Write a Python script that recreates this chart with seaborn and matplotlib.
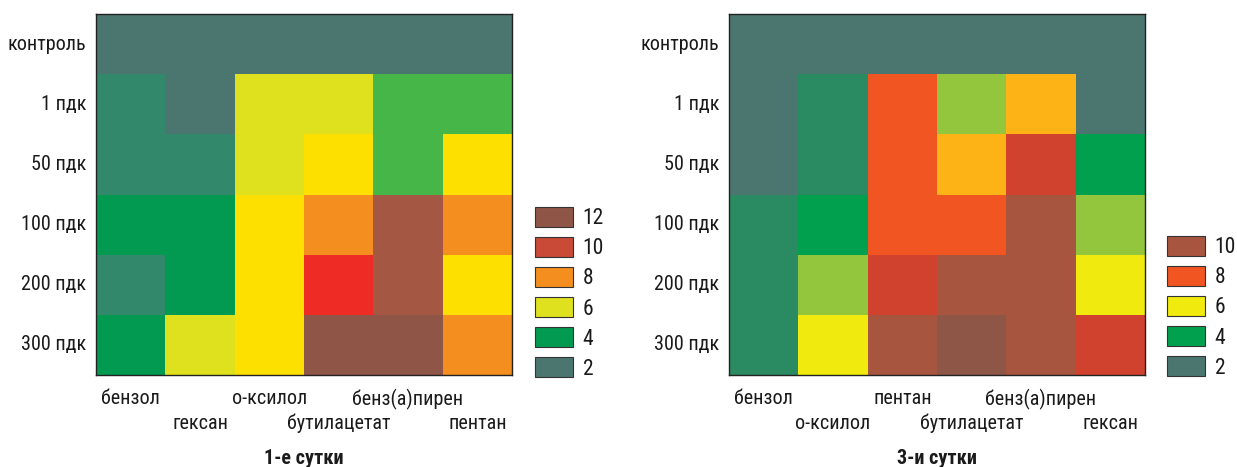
import numpy as np
import pandas as pd
import matplotlib
matplotlib.use("Agg")
import matplotlib.pyplot as plt
from matplotlib.colors import ListedColormap, BoundaryNorm
from matplotlib.patches import Patch
import seaborn as sns

sns.set_theme(style="white")
plt.rcParams["font.family"] = ["Roboto Condensed", "DejaVu Sans"]

rows = ["контроль", "1 пдк", "50 пдк", "100 пдк", "200 пдк", "300 пдк"]

# Day 1
cols_day1 = ["бензол", "гексан", "о-ксилол", "бутилацетат", "бенз(а)пирен", "пентан"]
vals_day1 = [
    [2, 2, 2, 2, 2, 2],
    [3, 2, 6, 6, 5, 5],
    [3, 3, 6, 7, 5, 7],
    [4, 4, 7, 8, 11, 8],
    [3, 4, 7, 9, 11, 7],
    [4, 6, 7, 12, 12, 8],
]
levels_day1 = [2, 3, 4, 5, 6, 7, 8, 9, 10, 11, 12]
colors_day1 = ["#4a766f", "#32886a", "#029a50", "#47b649", "#dfe01e", "#fde000",
               "#f48e1e", "#ee2b25", "#c94a37", "#a45742", "#8f5647"]
legend_day1 = [12, 10, 8, 6, 4, 2]

# Day 3
cols_day3 = ["бензол", "о-ксилол", "пентан", "бутилацетат", "бенз(а)пирен", "гексан"]
vals_day3 = [
    [2, 2, 2, 2, 2, 2],
    [2, 3, 8, 5, 7, 2],
    [2, 3, 8, 7, 9, 4],
    [3, 4, 8, 8, 10, 5],
    [3, 5, 9, 10, 10, 6],
    [3, 6, 10, 11, 10, 9],
]
levels_day3 = [2, 3, 4, 5, 6, 7, 8, 9, 10, 11]
colors_day3 = ["#4a766f", "#2a8a62", "#00a04f", "#94c63d", "#f0ea0e", "#fdb216",
               "#f05522", "#d0412e", "#a85540", "#8e5646"]
legend_day3 = [10, 8, 6, 4, 2]

W, H = 1237, 467
FS = 14.5
LFS = 15.5
fig = plt.figure(figsize=(W / 100, H / 100), dpi=100)


def panel(left_px, cols, vals, levels, colors, legend_levels, title, leg_x, leg_top):
    ax = fig.add_axes([left_px / W, 1 - 375 / H, 416 / W, 361 / H])
    df = pd.DataFrame(vals, index=rows, columns=cols)
    cmap = ListedColormap(colors)
    bounds = np.array(levels, dtype=float) - 0.5
    bounds = np.append(bounds, levels[-1] + 0.5)
    norm = BoundaryNorm(bounds, cmap.N)
    sns.heatmap(df, ax=ax, cmap=cmap, norm=norm, cbar=False, linewidths=0)
    for s in ax.spines.values():
        s.set_visible(True)
        s.set_color("#222222")
        s.set_linewidth(1.0)
    ax.tick_params(axis="both", which="both", direction="in", length=4, width=1,
                   color="#222222", top=True, right=True, bottom=True, left=True,
                   labelsize=FS, labelcolor="#1a1a1a")
    ax.set_yticklabels(rows, rotation=0)
    ax.tick_params(axis="y", pad=7)
    ax.set_xticklabels(cols, rotation=0)
    for i, t in enumerate(ax.xaxis.get_major_ticks()):
        t.set_pad(10 if i % 2 == 0 else 28)
    ax.set_xlabel("")
    ax.set_ylabel("")
    fig.text((left_px + 208) / W, 1 - 458 / H, title, ha="center", va="center",
             fontsize=FS, fontweight="bold", color="#1a1a1a")

    handles = [Patch(facecolor=colors[levels.index(v)], edgecolor="#333333", linewidth=0.8)
               for v in legend_levels]
    fig.legend(handles, [str(v) for v in legend_levels], loc="upper left",
               bbox_to_anchor=(leg_x / W, 1 - leg_top / H), frameon=False,
               fontsize=LFS, handlelength=1.77, handleheight=1.05, labelspacing=0.36,
               handletextpad=0.45, borderaxespad=0, borderpad=0,
               labelcolor="#1a1a1a")


panel(96, cols_day1, vals_day1, levels_day1, colors_day1, legend_day1,
      "1-е сутки", 535, 207)
panel(729, cols_day3, vals_day3, levels_day3, colors_day3, legend_day3,
      "3-и сутки", 1167, 236)

fig.savefig("out.png", dpi=100)
